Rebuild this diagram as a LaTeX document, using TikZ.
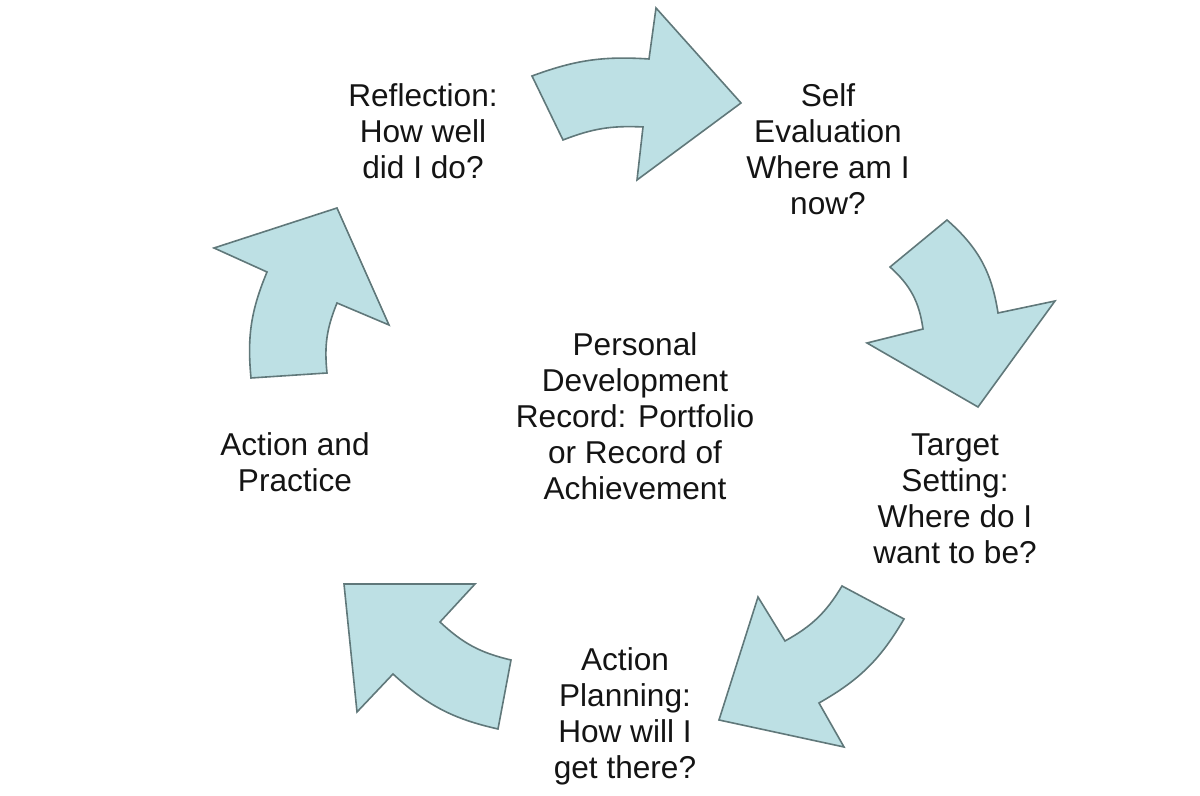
\documentclass[tikz,border=0pt]{standalone}
\usepackage{fontspec}
\setmainfont{Liberation Sans}
\definecolor{arrowfill}{RGB}{189,224,228}
\definecolor{arrowline}{RGB}{96,120,122}
\definecolor{txt}{RGB}{20,20,20}
\begin{document}
\begin{tikzpicture}[x=0.5pt,y=0.5pt,
  cyclearrow/.style={fill=arrowfill,draw=arrowline,line width=0.8pt,line join=miter},
  lbl/.style={align=center,inner sep=0pt,text=txt,font=\fontsize{15.8}{18}\selectfont}]
\useasboundingbox (0,0) rectangle (1200,796);
% top arrow
\draw[cyclearrow] (532,720) to[bend left=12] (649,737) -- (656,788) -- (741,693) -- (637,616) -- (643,669) to[bend right=12] (563,656) -- cycle;
% right arrow
\draw[cyclearrow] (890,529) -- (947,576) to[bend left=20] (998,483) -- (1055,495) -- (978,389) -- (867,453) -- (923,467) to[bend right=20] cycle;
% bottom right arrow
\draw[cyclearrow] (842,210) -- (904,177) to[bend left=15] (819,93) -- (844,49) -- (719,76) -- (758,199) -- (785,155) to[bend right=15] cycle;
% bottom left arrow
\draw[cyclearrow] (344,212) -- (475,212) -- (440,174) to[bend right=15] (511,136) -- (498,67) to[bend left=15] (393,122) -- (357,84) -- cycle;
% left arrow
\draw[cyclearrow] (337,588) -- (389,471) -- (337,493) to[bend right=14] (327,423) -- (251,418) to[bend left=14] (267,524) -- (214,548) -- cycle;
% labels
\node[lbl] (refl) at (423,665) {Reflection:\\How well\\did I do?};
\node[lbl] (self) at (828,647) {Self\\Evaluation\\Where am I\\now?};
\node[lbl] (target) at (955,297) {Target\\Setting:\\Where do I\\want to be?};
\node[lbl] (plan) at (625,80) {Action\\Planning:\\How will I\\get there?};
\node[lbl] (act) at (295,334) {Action and\\Practice};
\node[lbl] (centre) at (635,380) {Personal\\Development\\Record: Portfolio\\or Record of\\Achievement};
\end{tikzpicture}
\end{document}
